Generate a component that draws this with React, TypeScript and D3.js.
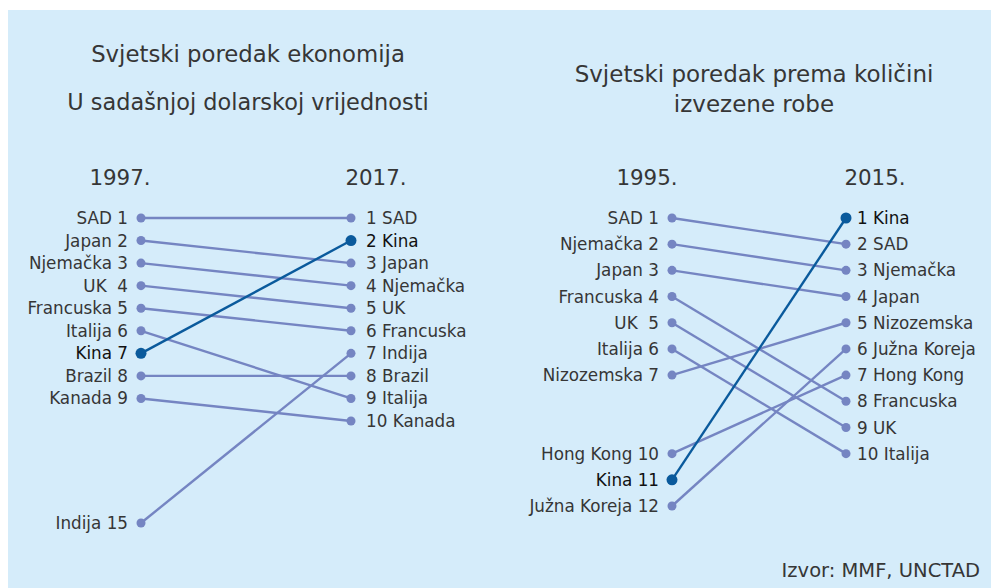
import React from "react";
import * as d3 from "d3";

// Left chart: world ranking of economies (current USD)
const econNames = ["SAD", "Japan", "Njemačka", "UK", "Francuska", "Italija", "Kina", "Brazil", "Kanada", "Indija"];
const econRank1997 = [1, 2, 3, 4, 5, 6, 7, 8, 9, 15];
const econRank2017 = [1, 3, 4, 5, 6, 9, 2, 8, 10, 7];
const econLeftLabels = ["SAD 1", "Japan 2", "Njemačka 3", "UK  4", "Francuska 5", "Italija 6", "Kina 7", "Brazil 8", "Kanada 9", "Indija 15"];

// Right chart: world ranking by exported goods
const tradeNames = ["SAD", "Njemačka", "Japan", "Francuska", "UK", "Italija", "Nizozemska", "Hong Kong", "Kina", "Južna Koreja"];
const tradeRank1995 = [1, 2, 3, 4, 5, 6, 7, 10, 11, 12];
const tradeRank2015 = [2, 3, 4, 8, 9, 10, 5, 7, 1, 6];
const tradeLeftLabels = ["SAD 1", "Njemačka 2", "Japan 3", "Francuska 4", "UK  5", "Italija 6", "Nizozemska 7", "Hong Kong 10", "Kina 11", "Južna Koreja 12"];

const highlight = "Kina";

const titles1 = ["Svjetski poredak ekonomija", "U sadašnjoj dolarskoj vrijednosti"];
const titles2 = ["Svjetski poredak prema količini", "izvezene robe"];
const years1 = ["1997.", "2017."];
const years2 = ["1995.", "2015."];
const source = "Izvor: MMF, UNCTAD";

const BG = "#d5ecfa";
const LINE = "#7585c2";
const HL = "#0a5a9c";
const TEXT = "#363636";
const FONT = "'DejaVu Sans', Verdana, sans-serif";
const LABEL_SIZE = 16.8;

type SlopeProps = {
  names: string[];
  r0: number[];
  r1: number[];
  leftLabels: string[];
  x0: number;
  x1: number;
  y: (r: number) => number;
  leftOffset: number;
  rightOffset: number;
};

function Slope({ names, r0, r1, leftLabels, x0, x1, y, leftOffset, rightOffset }: SlopeProps) {
  const order = names.map((_, i) => i).sort((a, b) => (names[a] === highlight ? 1 : 0) - (names[b] === highlight ? 1 : 0));
  return (
    <g>
      {order.map((i) => {
        const hl = names[i] === highlight;
        const c = hl ? HL : LINE;
        return (
          <g key={names[i]}>
            <line x1={x0} y1={y(r0[i])} x2={x1} y2={y(r1[i])} stroke={c} strokeWidth={2.4} />
            <circle cx={x0} cy={y(r0[i])} r={hl ? 5.5 : 4.5} fill={c} />
            <circle cx={x1} cy={y(r1[i])} r={hl ? 5.5 : 4.5} fill={c} />
          </g>
        );
      })}
      {names.map((n, i) => {
        const hl = n === highlight;
        return (
          <g key={"t" + n} fill={hl ? "#111" : TEXT}>
            <text x={x0 - leftOffset} y={y(r0[i])} dy="0.36em" textAnchor="end" fontSize={LABEL_SIZE} style={{ whiteSpace: "pre" }}>
              {leftLabels[i]}
            </text>
            <text x={x1 + rightOffset} y={y(r1[i])} dy="0.36em" textAnchor="start" fontSize={LABEL_SIZE}>
              {`${r1[i]} ${n}`}
            </text>
          </g>
        );
      })}
    </g>
  );
}

export default function App() {
  const yLeft = d3.scaleLinear().domain([1, 10, 15]).range([218, 421, 523]);
  const yRight = d3.scaleLinear().domain([1, 12]).range([218, 506]);

  return (
    <svg
      width={991}
      height={588}
      style={{ position: "absolute", left: 0, top: 0, display: "block" }}
      fontFamily={FONT}
    >
      <rect x={0} y={0} width={991} height={588} fill="#fff" />
      <rect x={8} y={10} width={983} height={578} fill={BG} />

      <g fill={TEXT} textAnchor="middle">
        <text x={248} y={62} fontSize={22.8}>{titles1[0]}</text>
        <text x={248} y={110} fontSize={22.4}>{titles1[1]}</text>
        <text x={120} y={185} fontSize={21.4}>{years1[0]}</text>
        <text x={376} y={185} fontSize={21.4}>{years1[1]}</text>

        <text x={754} y={82} fontSize={23}>{titles2[0]}</text>
        <text x={754} y={112} fontSize={23}>{titles2[1]}</text>
        <text x={647} y={185} fontSize={21.4}>{years2[0]}</text>
        <text x={875} y={185} fontSize={21.4}>{years2[1]}</text>
      </g>

      <Slope
        names={econNames}
        r0={econRank1997}
        r1={econRank2017}
        leftLabels={econLeftLabels}
        x0={141}
        x1={351}
        y={yLeft}
        leftOffset={13}
        rightOffset={15}
      />
      <Slope
        names={tradeNames}
        r0={tradeRank1995}
        r1={tradeRank2015}
        leftLabels={tradeLeftLabels}
        x0={672}
        x1={846}
        y={yRight}
        leftOffset={13}
        rightOffset={11}
      />

      <text x={980} y={577} textAnchor="end" fontSize={19.5} fill={TEXT}>{source}</text>
    </svg>
  );
}
